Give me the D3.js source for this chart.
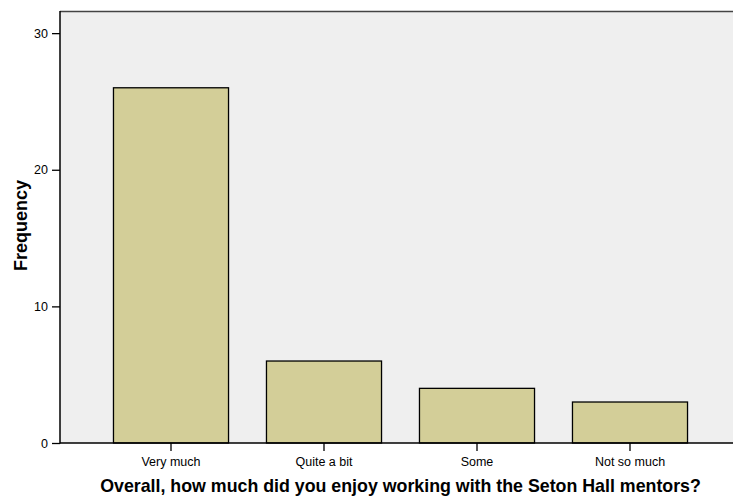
<!DOCTYPE html>
<html><head><meta charset="utf-8">
<script src="https://cdn.jsdelivr.net/npm/d3@7"></script>
<style>body{margin:0;background:#fff}svg{display:block}text{font-family:"Liberation Sans",Arial,sans-serif}</style>
</head><body>
<svg id="c" width="733" height="496"></svg>
<script>
const categories = ["Very much", "Quite a bit", "Some", "Not so much"];
const frequencies = [26, 6, 4, 3];
const yTicks = [0, 10, 20, 30];
const xTitle = "Overall, how much did you enjoy working with the Seton Hall mentors?";
const yTitle = "Frequency";

const svg = d3.select("#c");
const L = 60, R = 733, T = 11, B = 443;
const y = d3.scaleLinear().domain([0, 31.62]).range([B, T]);
const x = d3.scaleBand().domain(categories).range([94.5, 706.5]).paddingInner(0.248).paddingOuter(0.124);

svg.append("rect").attr("x", L).attr("y", T).attr("width", R - L).attr("height", B - T).attr("fill", "#efefef");
svg.append("line").attr("x1", L).attr("x2", R).attr("y1", T + 0.5).attr("y2", T + 0.5).attr("stroke", "#444").attr("stroke-width", 1.5);

svg.selectAll("rect.bar").data(frequencies).enter().append("rect").attr("class", "bar")
  .attr("x", (d, i) => x(categories[i]))
  .attr("width", x.bandwidth())
  .attr("y", d => y(d))
  .attr("height", d => y(0) - y(d))
  .attr("fill", "#d3ce98").attr("stroke", "#000").attr("stroke-width", 1.3);

const ya = svg.append("g").attr("transform", `translate(${L},0)`)
  .call(d3.axisLeft(y).tickValues(yTicks).tickSize(8).tickPadding(4).tickFormat(d3.format("d")));
ya.select(".domain").remove();
ya.selectAll("line").attr("stroke", "#000").attr("stroke-width", 1.3);
ya.selectAll("text").attr("font-size", 12.5).attr("fill", "#000");
svg.append("line").attr("x1", L).attr("x2", L).attr("y1", T).attr("y2", B + 0.5).attr("stroke", "#000").attr("stroke-width", 1.5);

const xa = svg.append("g").attr("transform", `translate(0,${B})`)
  .call(d3.axisBottom(x).tickSize(8).tickPadding(6));
xa.select(".domain").remove();
xa.selectAll("line").attr("stroke", "#000").attr("stroke-width", 1.3);
xa.selectAll("text").attr("font-size", 12.5).attr("fill", "#000");
svg.append("line").attr("x1", L).attr("x2", R).attr("y1", B).attr("y2", B).attr("stroke", "#000").attr("stroke-width", 1.5);

svg.append("text").attr("x", 400.5).attr("y", 492).attr("text-anchor", "middle")
  .attr("font-size", 17.8).attr("font-weight", "bold").text(xTitle);
svg.append("text").attr("transform", "translate(27,225.5) rotate(-90)").attr("text-anchor", "middle")
  .attr("font-size", 18).attr("font-weight", "bold").text(yTitle);
</script>
</body></html>
